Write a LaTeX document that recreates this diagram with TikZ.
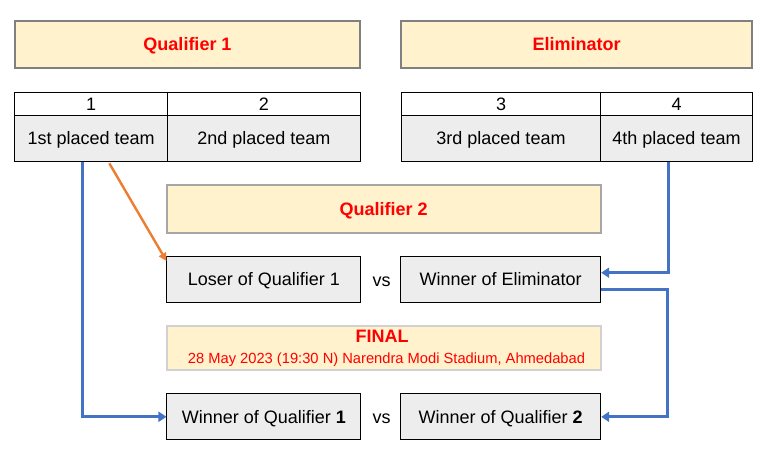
\documentclass[tikz,border=0pt]{standalone}
\usepackage{fontspec}
\setmainfont{Liberation Sans}
\usepackage{xcolor}
\usetikzlibrary{arrows.meta, positioning, calc}

\definecolor{cream}{HTML}{FFF2CC}
\definecolor{cellgray}{HTML}{EDEDED}
\definecolor{linkblue}{HTML}{4472C4}
\definecolor{linkorange}{HTML}{ED7D31}

\begin{document}
\begin{tikzpicture}[x=1pt, y=-1pt,
    every node/.style={inner sep=0pt, text height=12.4pt, text depth=0pt,
        font=\fontsize{18}{21}\selectfont},
    stagehdr/.style={rectangle, draw=#1, line width=2.2pt, fill=cream, text=red,
        font=\fontsize{18}{21}\selectfont\bfseries},
    numcell/.style={rectangle, draw=black, line width=1pt, fill=white, minimum height=23pt},
    teamcell/.style={rectangle, draw=black, line width=1pt, fill=cellgray, minimum height=46pt},
    matchbox/.style={rectangle, draw=black, line width=1pt, fill=cellgray,
        minimum width=193.7pt, minimum height=46pt},
    bluelink/.style={draw=linkblue, line width=3pt, -{Triangle[length=8pt, width=10pt]}},
    orangelink/.style={draw=linkorange, line width=2.4pt, -{Triangle[length=8pt, width=8pt]}}]
    \useasboundingbox (0,0) rectangle (762,458);

    % stage headers
    \node[stagehdr=gray, minimum width=345.6pt, minimum height=47.3pt] (q1hdr) at (187.5,44.7) {Qualifier 1};
    \node[stagehdr=gray, minimum width=351.6pt, minimum height=47.3pt] (elimhdr) at (576.5,44.7) {Eliminator};

    % league standings
    \node[numcell, minimum width=152.6pt] (n1) at (91.1,103.8) {1};
    \node[numcell, minimum width=193pt] (n2) at (263.8,103.8) {2};
    \node[numcell, minimum width=199.4pt] (n3) at (501,103.8) {3};
    \node[numcell, minimum width=151.6pt] (n4) at (676.5,103.8) {4};
    \node[teamcell, minimum width=152.6pt] (t1) at (91.1,138.3) {1st placed team};
    \node[teamcell, minimum width=193pt] (t2) at (263.8,138.3) {2nd placed team};
    \node[teamcell, minimum width=199.4pt] (t3) at (501,138.3) {3rd placed team};
    \node[teamcell, minimum width=151.6pt] (t4) at (676.5,138.3) {4th placed team};

    % qualifier 2
    \node[stagehdr=black!35, minimum width=434pt, minimum height=47.7pt] (q2hdr) at (383.7,209) {Qualifier 2};
    \node[matchbox] (loser) at (263.8,279.5) {Loser of Qualifier 1};
    \node (vs1) at (381.7,280) {vs};
    \node[matchbox, minimum width=200pt] (elimwin) at (500.7,279.5) {Winner of Eliminator};

    % final
    \node[stagehdr=black!18, minimum width=434pt, minimum height=44.6pt] (final) at (383.7,348) {};
    \node[text=red, font=\fontsize{18}{21}\selectfont\bfseries] (finaltitle) at (382,336.5) {FINAL};
    \node[text=red, text height=10.2pt, font=\fontsize{14.7}{17}\selectfont] (finalinfo) at (386.5,358.3)
        {28 May 2023 (19:30 N) Narendra Modi Stadium, Ahmedabad};
    \node[matchbox] (wq1) at (263.8,416.8) {Winner of Qualifier \textbf{1}};
    \node (vs2) at (381.7,417.3) {vs};
    \node[matchbox, minimum width=200pt] (wq2) at (500.7,416.8) {Winner of Qualifier \textbf{2}};

    % links
    \coordinate (elimturn) at (667.3,289);
    \draw[bluelink] ([xshift=-8.4pt]t1.south) |- (wq1.west);
    \draw[orangelink] ([xshift=18.2pt, yshift=-1.5pt]t1.south) -- ([yshift=-5pt]loser.north west);
    \draw[bluelink] ([xshift=-8.2pt]t4.south) |- ([yshift=6.8pt]elimwin.east);
    \draw[bluelink] (elimwin.east |- elimturn) -- (elimturn) |- (wq2.east);
\end{tikzpicture}
\end{document}
